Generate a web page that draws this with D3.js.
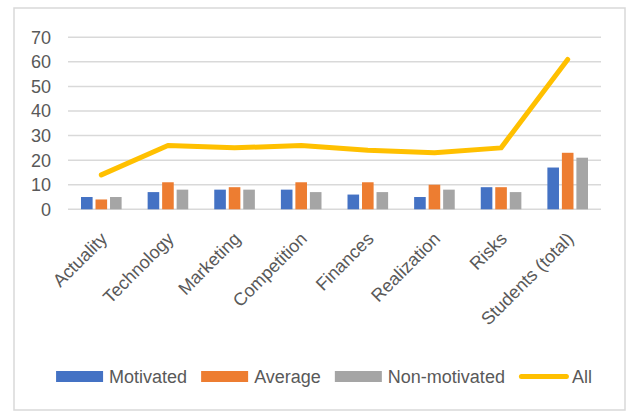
<!DOCTYPE html>
<html>
<head>
<meta charset="utf-8">
<script src="https://cdn.jsdelivr.net/npm/d3@7"></script>
<style>
  body { margin: 0; background: #fff; }
  text { font-family: "Liberation Sans", Arial, sans-serif; fill: #595959; }
</style>
</head>
<body>
<div id="chart"></div>
<script>
const categories = ["Actuality", "Technology", "Marketing", "Competition", "Finances", "Realization", "Risks", "Students (total)"];
const motivated = [5, 7, 8, 8, 6, 5, 9, 17];
const average = [4, 11, 9, 11, 11, 10, 9, 23];
const nonMotivated = [5, 8, 8, 7, 7, 8, 7, 21];
const all = [14, 26, 25, 26, 24, 23, 25, 61];
const yTicks = [0, 10, 20, 30, 40, 50, 60, 70];

const barSeries = [
  { name: "Motivated", values: motivated, color: "#4472C4" },
  { name: "Average", values: average, color: "#ED7D31" },
  { name: "Non-motivated", values: nonMotivated, color: "#A5A5A5" }
];

const width = 633, height = 412;

const svg = d3.select("#chart").append("svg")
  .attr("width", width)
  .attr("height", height);

// chart frame
svg.append("rect")
  .attr("x", 14).attr("y", 8)
  .attr("width", 611).attr("height", 402)
  .attr("fill", "#fff")
  .attr("stroke", "#D9D9D9")
  .attr("stroke-width", 1.5);

const plot = { left: 68, right: 601, top: 37.3, bottom: 209.3 };

const x0 = d3.scaleBand()
  .domain(categories)
  .range([plot.left, plot.right])
  .paddingInner(0.347)
  .paddingOuter(0.1735);

const x1 = d3.scaleBand()
  .domain(barSeries.map(s => s.name))
  .range([0, x0.bandwidth()])
  .paddingInner(0.2)
  .paddingOuter(0.1);

const y = d3.scaleLinear()
  .domain([0, 70])
  .range([plot.bottom, plot.top]);

// gridlines
svg.append("g")
  .selectAll("line")
  .data(yTicks)
  .enter()
  .append("line")
  .attr("x1", plot.left)
  .attr("x2", plot.right)
  .attr("y1", d => y(d))
  .attr("y2", d => y(d))
  .attr("stroke", "#D9D9D9")
  .attr("stroke-width", 1.5);

// y labels
svg.append("g")
  .selectAll("text")
  .data(yTicks)
  .enter()
  .append("text")
  .attr("x", 51)
  .attr("y", d => y(d))
  .attr("dy", "0.36em")
  .attr("text-anchor", "end")
  .style("font-size", "18px")
  .text(d => d);

// bars
const groups = svg.append("g")
  .selectAll("g")
  .data(categories)
  .enter()
  .append("g")
  .attr("transform", d => "translate(" + x0(d) + ",0)");

groups.selectAll("rect")
  .data((c, i) => barSeries.map(s => ({ name: s.name, value: s.values[i], color: s.color })))
  .enter()
  .append("rect")
  .attr("x", d => x1(d.name))
  .attr("width", x1.bandwidth())
  .attr("y", d => y(d.value))
  .attr("height", d => y(0) - y(d.value))
  .attr("fill", d => d.color);

// line "All"
const cx = c => x0(c) + x0.bandwidth() / 2;
const line = d3.line()
  .x((d, i) => cx(categories[i]))
  .y(d => y(d));

svg.append("path")
  .datum(all)
  .attr("d", line)
  .attr("fill", "none")
  .attr("stroke", "#FFC000")
  .attr("stroke-width", 5)
  .attr("stroke-linejoin", "round")
  .attr("stroke-linecap", "round");

// x labels
svg.append("g")
  .selectAll("text")
  .data(categories)
  .enter()
  .append("text")
  .attr("transform", d => "translate(" + (cx(d) + 7) + ",240) rotate(-45)")
  .attr("text-anchor", "end")
  .style("font-size", "18px")
  .text(d => d);

// legend
const legendItems = barSeries.map(s => ({ name: s.name, color: s.color, type: "rect" }))
  .concat([{ name: "All", color: "#FFC000", type: "line" }]);

const legend = svg.append("g");
let lx = 0;
const ly = 376.5;
legendItems.forEach(function (d) {
  const g = legend.append("g").attr("transform", "translate(" + lx + ",0)");
  if (d.type === "rect") {
    g.append("rect")
      .attr("x", 0).attr("y", ly - 5.5)
      .attr("width", 47).attr("height", 11)
      .attr("fill", d.color);
  } else {
    g.append("line")
      .attr("x1", 2.5).attr("x2", 47.5)
      .attr("y1", ly).attr("y2", ly)
      .attr("stroke", d.color)
      .attr("stroke-width", 5)
      .attr("stroke-linecap", "round");
  }
  const t = g.append("text")
    .attr("x", 53)
    .attr("y", ly)
    .attr("dy", "0.36em")
    .style("font-size", "18px")
    .text(d.name);
  lx += 53 + t.node().getComputedTextLength() + 14;
});
const legendW = lx - 14;
legend.attr("transform", "translate(" + (324 - legendW / 2) + ",0)");
</script>
</body>
</html>
